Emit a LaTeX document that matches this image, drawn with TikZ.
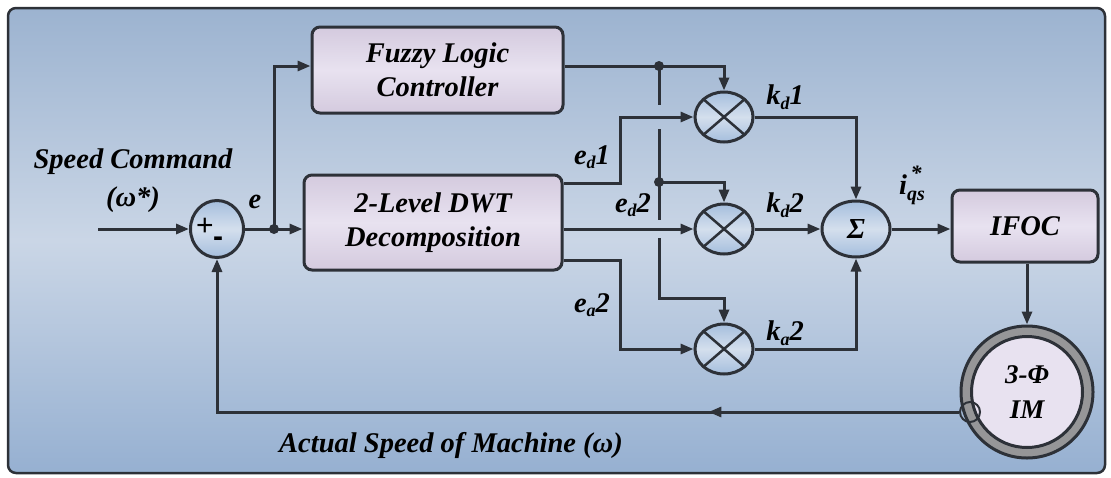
\documentclass[tikz,border=0pt]{standalone}
\usepackage{fontspec}
\setmainfont{Liberation Serif}
\newfontfamily\signfont{Liberation Sans}
\usetikzlibrary{arrows.meta,shapes.geometric,calc,decorations.markings}
\definecolor{ln}{RGB}{45,49,56}
\definecolor{bgtop}{RGB}{156,179,208}
\definecolor{bgmid}{RGB}{202,214,230}
\definecolor{bgbot}{RGB}{150,176,209}
\definecolor{lavA}{RGB}{212,202,222}
\definecolor{lavB}{RGB}{232,226,240}
\definecolor{cirA}{RGB}{165,190,221}
\definecolor{cirB}{RGB}{212,223,237}
\definecolor{ringgray}{RGB}{150,150,152}
\newcommand{\lowsub}[1]{\raisebox{-0.35ex}{\fontsize{18}{18}\selectfont #1}}
\tikzset{
  lbl/.style={font=\fontsize{28.5}{31}\selectfont\bfseries\itshape, inner sep=0pt},
  blk/.style={draw=ln, line width=3pt, rounded corners=8pt, top color=lavA, bottom color=lavA, middle color=lavB,
    align=center, font=\fontsize{28.5}{34}\selectfont\bfseries\itshape, inner sep=0pt},
  sumnode/.style={ellipse, draw=ln, line width=3pt, top color=cirA, bottom color=cirA, middle color=cirB, inner sep=0pt},
  wire/.style={draw=ln, line width=3pt},
  arr/.style={wire, -{Triangle[length=13pt,width=10pt]}},
  jdot/.style={circle, fill=ln, inner sep=0pt, minimum size=10pt},
  midarrow/.style={decoration={markings, mark=at position #1 with {\arrow{Triangle[length=13pt,width=10pt]}}}, postaction={decorate}},
}
\begin{document}
\begin{tikzpicture}[x=1pt,y=-1pt]
\useasboundingbox (0,0) rectangle (1111,477);
% background
\draw[rounded corners=8pt, line width=2.5pt, draw=ln, top color=bgtop, bottom color=bgbot, middle color=bgmid]
  (8,8) rectangle (1105,473);

% blocks
\node[blk, minimum width=251pt, minimum height=86pt] (flc) at (437.5,70) {Fuzzy Logic\\Controller};
\node[blk, minimum width=258pt, minimum height=95pt] (dwt) at (433,222.5) {2-Level DWT\\Decomposition};
\node[blk, minimum width=146pt, minimum height=72pt] (ifoc) at (1025,226) {IFOC};

% summers and multipliers
\node[sumnode, minimum width=53pt, minimum height=57pt] (s1) at (217,229) {};
\node[font=\fontsize{30}{30}\selectfont\signfont, inner sep=0pt] (plus) at (205,227) {+};
\node[font=\fontsize{30}{30}\selectfont\signfont\bfseries, inner sep=0pt] (minus) at (218,242) {-};
\node[sumnode, minimum width=68pt, minimum height=56pt, font=\fontsize{29}{29}\selectfont\bfseries\itshape] (sg) at (856,229) {Σ};
\foreach \n/\yy in {m1/117, m2/229, m3/349}{
  \node[sumnode, minimum width=58pt, minimum height=50pt] (\n) at (724,\yy) {};
  \draw[wire, line width=2.5pt] ($(\n.center)+(-20.5,-17.7)$) -- ($(\n.center)+(20.5,17.7)$);
  \draw[wire, line width=2.5pt] ($(\n.center)+(-20.5,17.7)$) -- ($(\n.center)+(20.5,-17.7)$);
}

% motor
\node[circle, draw=ln, line width=3pt, fill=ringgray, minimum size=132pt, inner sep=0pt] (im) at (1027,392) {};
\node[circle, draw=ln, line width=3pt, fill=lavB, minimum size=111pt, inner sep=0pt, align=center,
  font=\fontsize{27}{35}\selectfont\bfseries\itshape] (imin) at (im.center) {3-Φ\\IM};
\node[circle, draw=ln, line width=2pt, minimum size=20pt, inner sep=0pt] (sens) at (970,412) {};

% junction dots and helper coordinates
\node[jdot] (j1) at (274,229) {};
\node[jdot] (d1) at (659,66) {};
\node[jdot] (d2) at (659,182) {};
\coordinate (c3) at (659,298);

% connectors
\draw[arr] (98,229) -- (s1.west);
\draw[arr] (s1.east) -- (dwt.west |- s1.east);
\draw[arr] (j1.center) |- (flc.west |- 0,66);
\draw[arr] (flc.east |- d1) -| (m1.north);
\draw[wire] (d1.center) -- (659,105);
\draw[wire] (659,129) -- (659,220);
\draw[arr] (659,238) -- (c3) -| (m3.north);
\draw[arr] (d2.center) -| (m2.north);
\draw[arr] (dwt.east |- 0,183) -- (620,183) |- (m1.west);
\draw[arr] (dwt.east |- m2.west) -- (m2.west);
\draw[arr] (dwt.east |- 0,260) -- (620,260) |- (m3.west);
\draw[arr] (m1.east) -| (sg.north);
\draw[arr] (m2.east) -- (sg.west);
\draw[arr] (m3.east) -| (sg.south);
\draw[arr] (sg.east) -- (ifoc.west |- sg.east);
\draw[arr] (ifoc.south -| im.north) -- (im.north);
\draw[arr, midarrow=0.28] (sens.west) -| (s1.south);

% labels
\node[lbl] (lsc) at (133,162) {Speed Command};
\node[lbl] (lws) at (133,200) {(ω*)};
\node[lbl] (le) at (255,202) {e};
\node[lbl] (led1) at (592,157) {e\lowsub{d}1};
\node[lbl] (led2) at (633,205) {e\lowsub{d}2};
\node[lbl] (lea2) at (592,305) {e\lowsub{a}2};
\node[lbl] (lkd1) at (785,97) {k\lowsub{d}1};
\node[lbl] (lkd2) at (785,205) {k\lowsub{d}2};
\node[lbl] (lka2) at (785,333) {k\lowsub{a}2};
\node[lbl] (liqs) at (912,185) {i\rlap{\raisebox{1.1ex}{\fontsize{22}{22}\selectfont\,*}}\raisebox{-0.45ex}{\fontsize{20}{20}\selectfont qs}};
\node[lbl] (lact) at (451,445) {Actual Speed of Machine (ω)};
\end{tikzpicture}
\end{document}
